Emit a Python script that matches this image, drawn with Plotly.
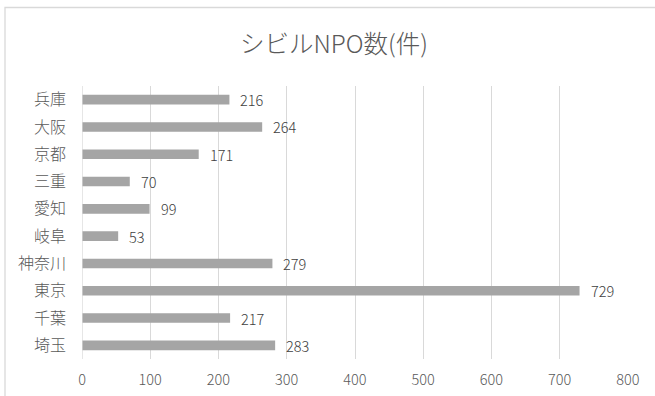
import plotly.graph_objects as go

categories = ["埼玉", "千葉", "東京", "神奈川", "岐阜", "愛知", "三重", "京都", "大阪", "兵庫"]
values = [283, 217, 729, 279, 53, 99, 70, 171, 264, 216]
x_ticks = [0, 100, 200, 300, 400, 500, 600, 700, 800]
title_text = "シビルNPO数(件)"

FONT = "Noto Sans CJK JP"
W, H = 655, 396
L, R, T, B = 82, 27, 86, 37

fig = go.Figure()
fig.add_trace(go.Bar(
    y=categories, x=values, orientation="h",
    marker=dict(color="#A5A5A5", line=dict(width=0)),
    hoverinfo="skip",
))

for c, v in zip(categories, values):
    fig.add_annotation(x=v, y=c, text=str(v), showarrow=False,
                       xanchor="left", xshift=9,
                       font=dict(family=FONT, size=14.5, color="#404040", weight=300))

pw = W - L - R
ph = H - T - B
x0 = (5 - L) / pw
y1 = 1 + (T - 7.5) / ph
fig.add_shape(type="rect", xref="paper", yref="paper",
              x0=x0, x1=(W + 20 - L) / pw, y0=-(B + 20) / ph, y1=y1,
              line=dict(color="#D9D9D9", width=1.3), fillcolor="rgba(0,0,0,0)", layer="below")

fig.update_layout(
    width=W, height=H,
    margin=dict(l=L, r=R, t=T, b=B, autoexpand=False),
    paper_bgcolor="white", plot_bgcolor="white",
    bargap=0.65,
    showlegend=False,
    title=dict(text=title_text, x=334 / W, xref="container", xanchor="center",
               y=1 - 44 / H, yref="container", yanchor="middle",
               font=dict(family=FONT, size=24.5, color="#595959", weight=300)),
    xaxis=dict(range=[0, 800], tickvals=x_ticks, showgrid=True,
               gridcolor="#D9D9D9", gridwidth=1, zeroline=False,
               showline=False, ticks="", ticklabelstandoff=10, automargin=False,
               tickfont=dict(family=FONT, size=14.5, color="#595959", weight=300),
               fixedrange=True),
    yaxis=dict(categoryorder="array", categoryarray=categories,
               showgrid=False, zeroline=False, showline=False, ticks="",
               ticklabelstandoff=15, automargin=False,
               tickfont=dict(family=FONT, size=16, color="#595959", weight=300),
               fixedrange=True),
)
fig.add_shape(type="line", xref="x", yref="paper", x0=0, x1=0, y0=0, y1=1,
              line=dict(color="#D9D9D9", width=1.3))

fig.write_html("out.html")
